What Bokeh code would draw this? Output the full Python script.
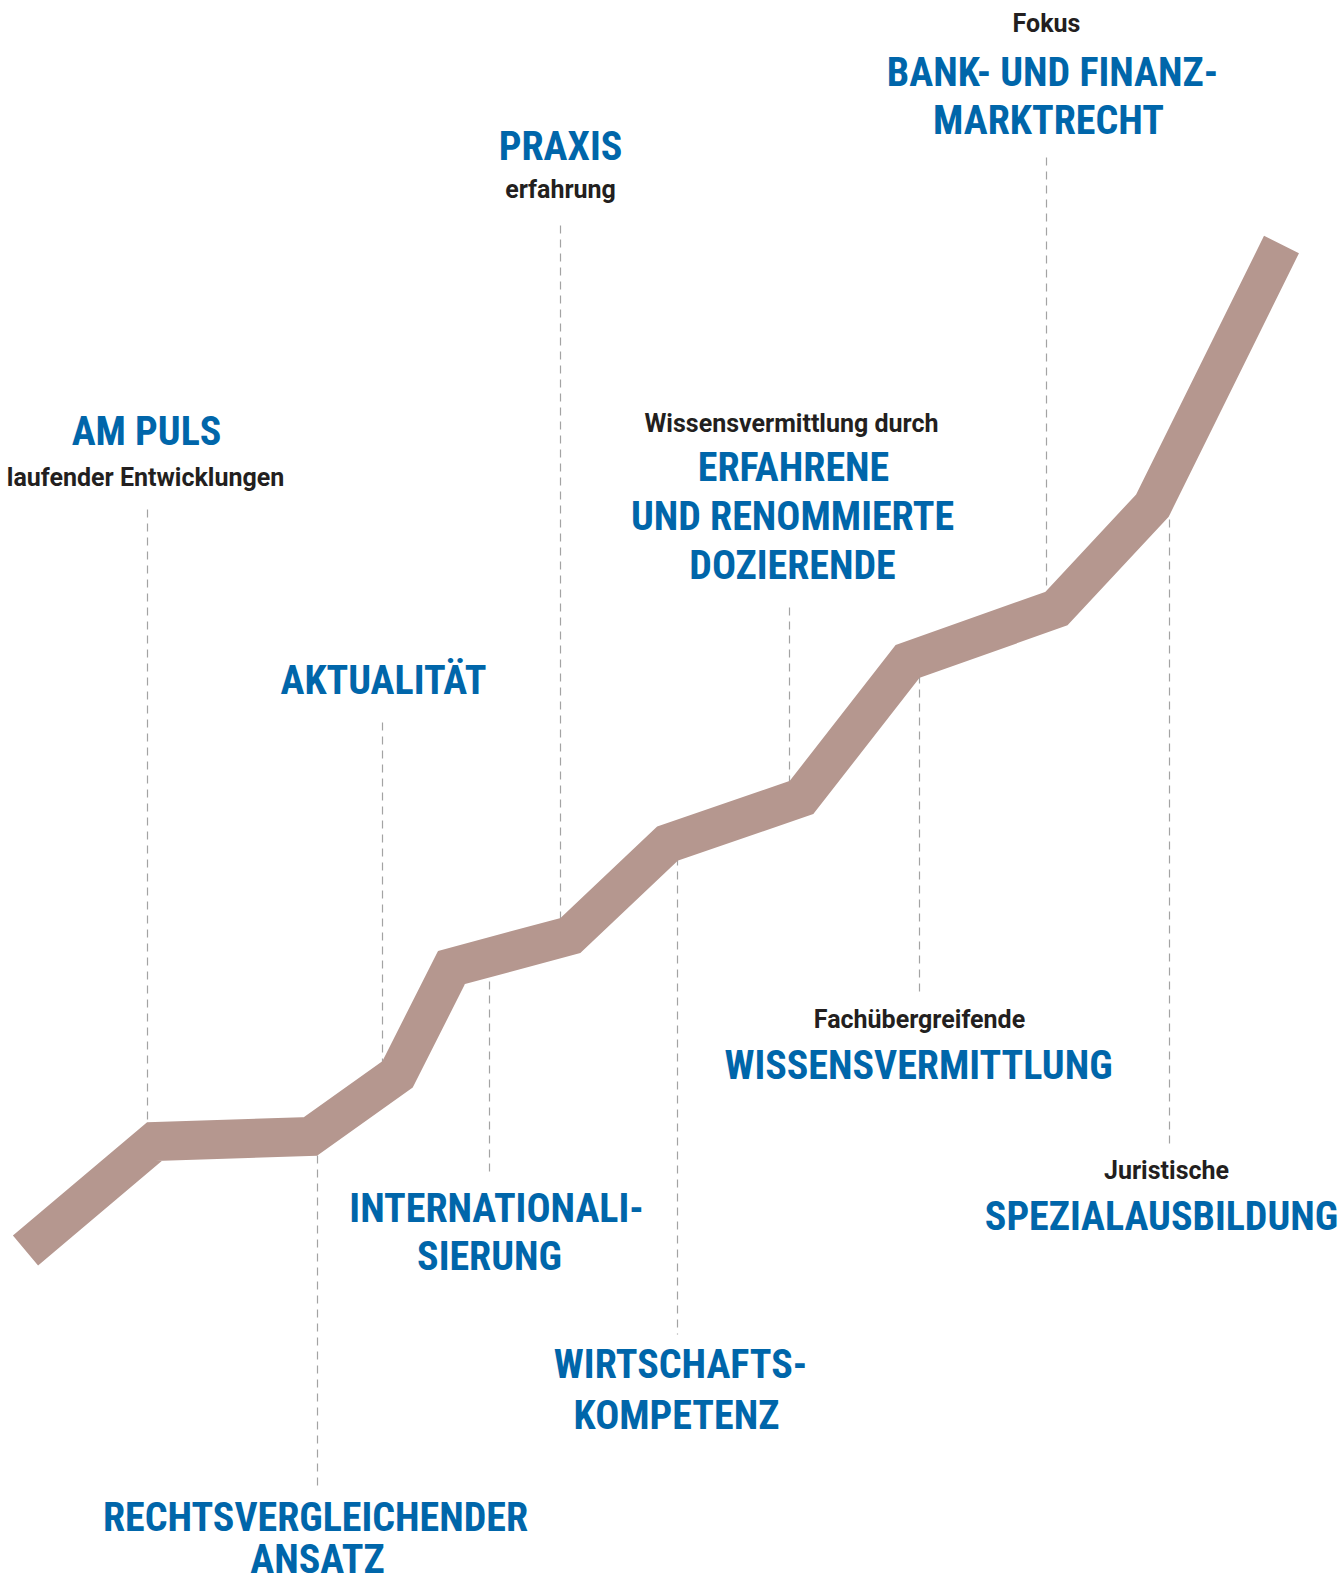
from bokeh.plotting import figure
from bokeh.models import Range1d, ColumnDataSource
from bokeh.core.properties import value
from bokeh.embed import file_html
from bokeh.resources import INLINE

# Path of the rising band (centre line), page-pixel coordinates (y grows downward)
path_x = [25, 154, 310, 397, 451, 570, 667, 801, 907, 1056, 1152, 1281]
path_y = [1250, 1141, 1136, 1074, 967, 935, 843, 797, 661, 608, 505, 244]

# Dashed leader lines
lead_x = [147, 317, 382, 489, 560, 677, 789, 919, 1046, 1169]
lead_y0 = [509, 1141, 722, 967, 225, 843, 607, 661, 157, 505]
lead_y1 = [1141, 1488, 1074, 1174, 935, 1334, 797, 992, 608, 1144]

# Blue headline lines (x centre, baseline y)
head_text = ["AM PULS", "AKTUALITÄT", "PRAXIS", "BANK- UND FINANZ-", "MARKTRECHT",
             "ERFAHRENE", "UND RENOMMIERTE", "DOZIERENDE", "WISSENSVERMITTLUNG",
             "SPEZIALAUSBILDUNG", "INTERNATIONALI-", "SIERUNG", "WIRTSCHAFTS-",
             "KOMPETENZ", "RECHTSVERGLEICHENDER", "ANSATZ"]
head_x = [146, 383, 560, 1052, 1048, 793, 792, 792, 918, 1161, 496, 489, 680, 676, 315, 317]
head_y = [450, 699, 165, 91, 139, 486, 535, 584, 1084, 1235, 1227, 1275, 1383, 1434, 1536, 1578]

# Dark sub-captions (x centre, baseline y)
sub_text = ["laufender Entwicklungen", "erfahrung", "Fokus", "Wissensvermittlung durch",
            "Fachübergreifende", "Juristische"]
sub_x = [145, 560, 1046, 791, 919, 1166]
sub_y = [486, 198, 32, 432, 1028, 1179]

HEAD_SHIFT = 19   # compensates renderer baseline offset + smaller cap height
SUB_SHIFT = 9

W, H = 1344, 1587
p = figure(width=W, height=H, output_backend="svg", toolbar_location=None,
           x_range=Range1d(0, W), y_range=Range1d(H, 0),
           x_axis_location=None, y_axis_location=None, min_border=0)
p.grid.visible = False
p.outline_line_color = None
p.background_fill_color = "white"
p.border_fill_color = "white"

p.segment(x0=lead_x, y0=lead_y0, x1=lead_x, y1=lead_y1,
          line_color="#a3a3a3", line_width=1.2, line_dash="8 6")

p.line(path_x, path_y, line_color="#b5978f", line_width=39,
       line_join="miter", line_cap="butt")

hs = ColumnDataSource(dict(x=head_x, y=[v - HEAD_SHIFT for v in head_y], t=head_text))
p.text(x="x", y="y", text="t", source=hs, text_color="#0066aa",
       text_font=value("'Roboto Condensed', 'DejaVu Sans Condensed'"), text_font_style="bold",
       text_font_size="40px", text_align="center", text_baseline="alphabetic")

ss = ColumnDataSource(dict(x=sub_x, y=[v - SUB_SHIFT for v in sub_y], t=sub_text))
p.text(x="x", y="y", text="t", source=ss, text_color="#231f20",
       text_font=value("Roboto"), text_font_style="bold",
       text_font_size="25px", text_align="center", text_baseline="alphabetic")

open("out.html", "w").write(file_html(p, INLINE))
